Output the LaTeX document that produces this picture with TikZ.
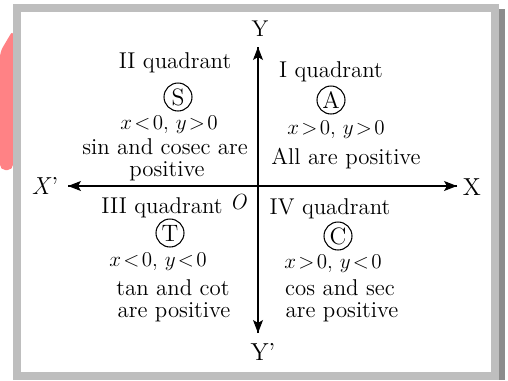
\documentclass[tikz,border=0pt]{standalone}
\usepackage{amsmath,amssymb}
\usetikzlibrary{arrows.meta}
\definecolor{framegray}{HTML}{BEBEBE}
\definecolor{shadegray}{HTML}{8C8C8C}
\definecolor{blobpink}{HTML}{FF8285}
\tikzset{
  qtxt/.style  = {inner sep=0pt, align=center, font=\fontsize{13}{15}\selectfont},
  lbl/.style   = {inner sep=0pt, font=\fontsize{14}{16}\selectfont},
  sgn/.style   = {draw=black, line width=0.6pt, circle, inner sep=0pt,
                  minimum size=0.56cm, font=\fontsize{13.5}{15}\selectfont},
  ax/.style    = {-{Stealth[length=2.6mm,width=2mm,inset=0.6mm]}, line width=0.6pt},
}
\newcommand{\sgnrel}[1]{\!#1\!}

\begin{document}
\begin{tikzpicture}[x=0.02cm, y=-0.02cm]
\useasboundingbox (0,0) rectangle (508,380);
%% ---- frame -----------------------------------------------------------
\fill[blobpink, rounded corners=3] (0,52) -- (13,30) -- (13,170) -- (0,170) -- cycle;
\fill[framegray] (13,4) rectangle (499,380);
\fill[shadegray] (499,9) rectangle (505,380);
\fill[white] (21,12) rectangle (491,372);

%% ---- axes ------------------------------------------------------------
\coordinate (xl) at (68,186);
\coordinate (xr) at (457,186);
\coordinate (yt) at (258,47);
\coordinate (yb) at (258,333);
\node[lbl] (Xp) at (45,186) {\textit{X}'};
\node[lbl] (X)  at (472,187) {X};
\node[lbl, font=\fontsize{13}{15}\selectfont] (Y) at (260,29) {Y};
\node[lbl] (Yp) at (263,352) {Y'};
\node[lbl, font=\fontsize{12.5}{14}\selectfont\itshape] (O) at (238,202) {O};
\draw[ax] (xr) -- (xl);
\draw[ax] (xl) -- (xr);
\draw[ax] (yb) -- (yt);
\draw[ax] (yt) -- (yb);

%% ---- II quadrant -----------------------------------------------------
\node[qtxt] (q2)  at (175,63)  {II quadrant};
\node[sgn]  (S)   at (178,97)  {S};
\node[qtxt] (q2c) at (169,125) {$x\sgnrel{<}0,\,y\sgnrel{>}0$};
\node[qtxt] (q2a) at (165,147) {sin and cosec are};
\node[qtxt] (q2b) at (167,171) {positive};

%% ---- I quadrant ------------------------------------------------------
\node[qtxt] (q1)  at (331,72)  {I quadrant};
\node[sgn]  (A)   at (331,100) {A};
\node[qtxt] (q1c) at (336,130) {$x\sgnrel{>}0,\,y\sgnrel{>}0$};
\node[qtxt] (q1a) at (346,159) {All are positive};

%% ---- III quadrant ----------------------------------------------------
\node[qtxt] (q3)  at (162,208) {III quadrant};
\node[sgn]  (T)   at (170,233) {T};
\node[qtxt] (q3c) at (158,262) {$x\sgnrel{<}0,\,y\sgnrel{<}0$};
\node[qtxt] (q3a) at (173,288) {tan and cot};
\node[qtxt] (q3b) at (174,312) {are positive};

%% ---- IV quadrant -----------------------------------------------------
\node[qtxt] (q4)  at (330,209) {IV quadrant};
\node[sgn]  (C)   at (338,236) {C};
\node[qtxt] (q4c) at (333,264) {$x\sgnrel{>}0,\,y\sgnrel{<}0$};
\node[qtxt] (q4a) at (340,288) {cos and sec};
\node[qtxt] (q4b) at (342,312) {are positive};
\end{tikzpicture}
\end{document}
